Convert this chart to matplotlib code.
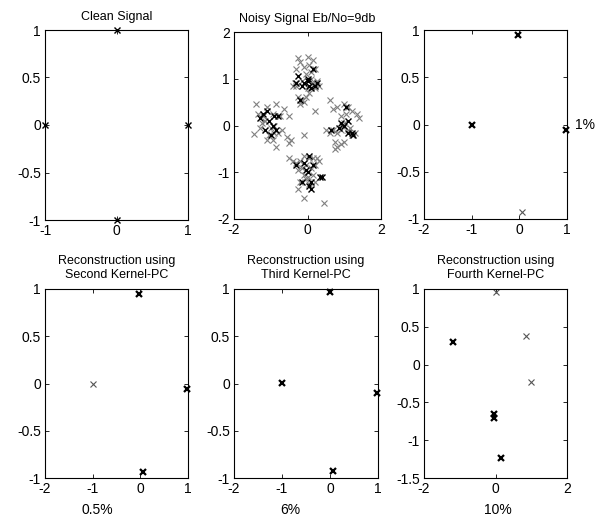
import matplotlib
matplotlib.use("Agg")
import matplotlib.pyplot as plt

plt.rcParams['font.family'] = ['Liberation Sans', 'DejaVu Sans']
plt.rcParams['font.size'] = 10

# clean constellation
clean_x = [1, -1, 0, 0]
clean_y = [0, 0, 1, -1]

# noisy signal, Eb/No = 9 dB
noisy_gray_x = [-0.25, -0.2, 0.0, 0.15, 0.05, -0.1, 0.1, -0.3, 0.2, -0.05, 0.25, 0.15, -0.15,
                -0.3, -0.35, 0.0, 0.1, -0.25, -0.15, -0.05, -0.2, -0.1, 0.05, 0.3, -0.4, 0.2,
                -1.4, -1.35, -1.2, -1.1, -0.95, -0.85, -1.25, -1.15, -1.0, -0.9, -0.8, -0.75,
                -1.3, -1.05, -0.95, -0.85, -0.65, -0.7, -1.45, -1.1, -0.9,
                -0.5, -0.55, -0.45, -0.5, -0.1, 0.2,
                0.6, 0.7, 0.8, 1.0, 1.1, 1.05, 0.9, 1.2, 1.35, 1.4, 1.0, 0.9, 0.7, 0.6, 0.5,
                0.8, 1.1, 1.2, 1.3, 0.75, 0.8, 0.9, 1.0, 0.75, 1.15, 0.95,
                -0.5, -0.4, -0.3, -0.2, -0.1, 0.05, 0.15, 0.25, 0.3, -0.25, -0.15, -0.05, 0.1,
                0.2, -0.1, 0.0, 0.15, -0.2, 0.05, 0.2, -0.05,
                -0.25, -0.1, 0.45]
noisy_gray_y = [1.45, 1.35, 1.47, 1.4, 1.3, 1.25, 1.15, 1.2, 1.2, 1.1, 0.95, 0.9, 0.95,
                0.85, 0.9, 0.8, 1.0, 0.6, 0.55, 0.6, 0.45, 0.5, 0.7, 0.85, 0.85, 0.8,
                0.45, 0.25, 0.2, 0.4, 0.25, 0.45, 0.05, 0.1, -0.05, 0.0, -0.15, 0.2,
                -0.05, -0.2, -0.3, -0.45, 0.35, -0.1, -0.18, -0.3, -0.15,
                0.2, -0.25, -0.3, -0.38, -0.2, 0.3,
                0.55, 0.35, 0.4, 0.45, 0.4, 0.25, 0.2, 0.3, 0.25, 0.15, 0.05, -0.1, -0.1, -0.15, -0.1,
                -0.15, -0.1, -0.2, -0.15, -0.35, -0.45, -0.4, -0.35, -0.5, -0.05, 0.0,
                -0.7, -0.75, -0.8, -0.75, -0.65, -0.7, -0.7, -0.7, -0.75, -0.95, -0.9, -0.85, -0.9,
                -0.85, -1.05, -1.1, -1.05, -1.2, -1.25, -1.2, -1.15,
                -1.35, -1.55, -1.65]
noisy_black_x = [-0.25, -0.3, -0.15, 0.0, 0.05, 0.1, 0.2, 0.25, 0.15, -0.2, 0.0, -0.1,
                 -1.2, -1.05, -0.95, -1.0, -0.85, -1.15, -0.9, -0.8, -1.1, -1.3,
                 1.05, 1.1, 1.0, 0.9, 1.1, 1.2, 1.25, 0.65, 0.85,
                 -0.3, -0.1, 0.05, 0.15, -0.05, 0.0, 0.1, 0.05, 0.1, 0.35, 0.4, -0.15]
noisy_black_y = [1.05, 0.9, 0.85, 0.95, 0.85, 0.8, 0.85, 0.9, 1.2, 0.55, 1.0, 0.9,
                 0.25, 0.1, 0.0, -0.2, -0.1, -0.1, 0.2, 0.2, 0.3, 0.15,
                 0.4, 0.1, 0.0, 0.05, -0.15, -0.15, -0.2, -0.1, -0.05,
                 -0.85, -0.8, -0.65, -0.85, -0.95, -1.0, -1.2, -1.3, -1.35, -1.1, -1.1, -1.2]

# reconstructions: bold = many coinciding points, thin = single point
rec1_bold_x, rec1_bold_y = [-1.0, -0.02, 0.98], [0.0, 0.95, -0.06]
rec1_thin_x, rec1_thin_y = [0.05], [-0.93]
rec2_bold_x, rec2_bold_y = [-0.03, 0.98, 0.05], [0.95, -0.06, -0.94]
rec2_thin_x, rec2_thin_y = [-1.0], [0.0]
rec3_bold_x, rec3_bold_y = [-1.0, -0.01, 0.06, 0.97], [0.01, 0.97, -0.93, -0.1]
rec3_thin_x, rec3_thin_y = [], []
rec4_bold_x, rec4_bold_y = [-1.2, -0.05, -0.04, 0.15], [0.3, -0.65, -0.71, -1.23]
rec4_thin_x, rec4_thin_y = [0.02, 0.85, 1.0], [0.96, 0.38, -0.23]

W, H = 613, 521
fig = plt.figure(figsize=(W / 100, H / 100), dpi=100)


def make_ax(l, r, t, b):
    ax = fig.add_axes([l / W, 1 - b / H, (r - l) / W, (b - t) / H])
    ax.tick_params(direction='in', top=True, right=True, length=3, width=0.6, pad=3,
                   labelsize=10)
    for s in ax.spines.values():
        s.set_linewidth(0.8)
    return ax


def setup(ax, xl, yl, xt, yt):
    ax.set_xlim(xl)
    ax.set_ylim(yl)
    ax.set_xticks(xt)
    ax.set_yticks(yt)
    ax.set_xticklabels(['%g' % v for v in xt])
    ax.set_yticklabels(['%g' % v for v in yt])


def rec(ax, bx, by, tx, ty):
    ax.plot(bx, by, 'x', color='black', ms=4.5, mew=1.6, clip_on=False)
    ax.plot(tx, ty, 'x', color='#555555', ms=5, mew=0.8, clip_on=False)


TFS = 9

ax1 = make_ax(45, 188, 30, 220)
ax1.plot(clean_x, clean_y, 'x', color='black', ms=4, mew=1.0, clip_on=False)
setup(ax1, (-1, 1), (-1, 1), [-1, 0, 1], [-1, -0.5, 0, 0.5, 1])
ax1.set_title('Clean Signal', pad=7, fontsize=TFS)

ax2 = make_ax(234, 381, 32, 219)
ax2.plot(noisy_gray_x, noisy_gray_y, 'x', color='#808080', ms=5, mew=0.8)
ax2.plot(noisy_black_x, noisy_black_y, 'x', color='black', ms=5, mew=1.0)
setup(ax2, (-2, 2), (-2, 2), [-2, 0, 2], [-2, -1, 0, 1, 2])
ax2.set_title('Noisy Signal Eb/No=9db', pad=7, fontsize=TFS)

ax3 = make_ax(424, 567, 30, 219)
rec(ax3, rec1_bold_x, rec1_bold_y, rec1_thin_x, rec1_thin_y)
setup(ax3, (-2, 1), (-1, 1), [-2, -1, 0, 1], [-1, -0.5, 0, 0.5, 1])

ax4 = make_ax(45, 188, 289, 478)
rec(ax4, rec2_bold_x, rec2_bold_y, rec2_thin_x, rec2_thin_y)
setup(ax4, (-2, 1), (-1, 1), [-2, -1, 0, 1], [-1, -0.5, 0, 0.5, 1])
ax4.set_title('Reconstruction using\nSecond Kernel-PC', pad=8, linespacing=1.2, fontsize=TFS)

ax5 = make_ax(234, 378, 289, 478)
rec(ax5, rec3_bold_x, rec3_bold_y, rec3_thin_x, rec3_thin_y)
setup(ax5, (-2, 1), (-1, 1), [-2, -1, 0, 1], [-1, -0.5, 0, 0.5, 1])
ax5.set_title('Reconstruction using\nThird Kernel-PC', pad=8, linespacing=1.2, fontsize=TFS)

ax6 = make_ax(424, 567, 289, 478)
rec(ax6, rec4_bold_x, rec4_bold_y, rec4_thin_x, rec4_thin_y)
setup(ax6, (-2, 2), (-1.5, 1), [-2, 0, 2], [-1.5, -1, -0.5, 0, 0.5, 1])
ax6.set_title('Reconstruction using\nFourth Kernel-PC', pad=8, linespacing=1.2, fontsize=TFS)

fig.text(585 / W, 1 - 125 / H, '1%', ha='center', va='center')
fig.text(97 / W, 1 - 510 / H, '0.5%', ha='center', va='center')
fig.text(290 / W, 1 - 510 / H, '6%', ha='center', va='center')
fig.text(498 / W, 1 - 510 / H, '10%', ha='center', va='center')

fig.savefig('out.png', dpi=100)
